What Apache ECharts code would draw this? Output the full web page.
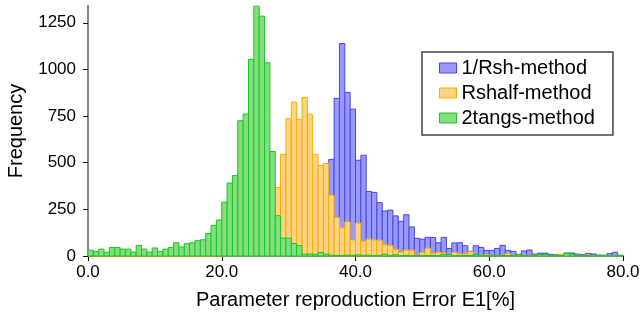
<!DOCTYPE html>
<html>
<head>
<meta charset="utf-8">
<script src="https://cdn.jsdelivr.net/npm/echarts@6/dist/echarts.min.js"></script>
<style>
  html, body { margin: 0; padding: 0; background: #fff; }
  #histEcharts { width: 643px; height: 320px; }
</style>
</head>
<body>
<div id="histEcharts"></div>
<script>
// 直方图: 三种方法的参数重现误差
var binWidth = 0.8; // 每个 bin 宽 0.8 (%), 共 100 个
var seriesNames = ["1/Rsh-method", "Rshalf-method", "2tangs-method"];
var xTicks = [0, 20, 40, 60, 80];
var yTicks = [0, 250, 500, 750, 1000, 1250];

var rshCounts = [
  0, 0, 0, 0, 0, 0, 0, 0, 0, 0,
  0, 0, 0, 0, 0, 0, 0, 0, 0, 0,
  0, 0, 0, 0, 0, 0, 0, 0, 0, 0,
  0, 0, 0, 0, 0, 0, 0, 0, 5, 10,
  20, 40, 80, 150, 280, 518, 845, 1139, 877, 787,
  513, 540, 346, 341, 286, 241, 246, 215, 186, 221,
  156, 95, 90, 100, 99, 71, 100, 40, 70, 71,
  55, 25, 55, 46, 30, 30, 41, 57, 30, 25,
  9, 27, 32, 10, 15, 15, 9, 7, 5, 16,
  16, 10, 7, 14, 11, 5, 4, 13, 20, 4
];
var rshalfCounts = [
  0, 0, 0, 0, 0, 0, 0, 0, 0, 0,
  0, 0, 0, 0, 0, 0, 0, 0, 0, 0,
  0, 0, 0, 0, 0, 2, 3, 5, 8, 15,
  25, 45, 80, 140, 250, 367, 545, 736, 825, 733,
  850, 760, 545, 486, 496, 326, 206, 151, 183, 86,
  176, 80, 90, 86, 85, 60, 56, 36, 21, 32,
  31, 5, 20, 42, 14, 20, 16, 6, 20, 11,
  11, 23, 5, 4, 6, 5, 3, 4, 14, 3,
  5, 4, 5, 4, 3, 5, 3, 4, 9, 3,
  2, 4, 2, 6, 2, 3, 2, 2, 3, 2
];
var tangsCounts = [
  31, 24, 37, 20, 46, 46, 37, 37, 21, 57,
  37, 21, 43, 25, 37, 46, 71, 48, 66, 71,
  82, 87, 121, 164, 193, 288, 391, 432, 725, 761,
  1054, 1339, 1286, 1036, 560, 216, 96, 96, 67, 56,
  10, 11, 9, 19, 10, 4, 3, 3, 5, 3,
  6, 3, 4, 2, 3, 10, 3, 7, 2, 3,
  2, 3, 2, 2, 3, 2, 9, 8, 2, 3,
  2, 2, 8, 2, 1, 2, 2, 2, 1, 2,
  5, 2, 1, 2, 8, 7, 1, 2, 2, 15,
  10, 3, 1, 2, 1, 1, 2, 1, 1, 2
];

var fillColors = ["#9999fb", "#ffd37f", "#80e080"];
var edgeColors = ["#4646ee", "#ffaa00", "#1fc41f"];

function toBins(counts) {
  return counts.map(function (c, i) {
    return [i * binWidth, (i + 1) * binWidth, c];
  });
}

function renderBin(params, api) {
  var topLeft = api.coord([api.value(0), api.value(2)]);
  var bottomRight = api.coord([api.value(1), 0]);
  return {
    type: "rect",
    shape: {
      x: topLeft[0],
      y: topLeft[1],
      width: bottomRight[0] - topLeft[0],
      height: bottomRight[1] - topLeft[1],
    },
    style: {
      fill: fillColors[params.seriesIndex],
      stroke: edgeColors[params.seriesIndex],
      lineWidth: 1,
    },
  };
}

var histChart = echarts.init(document.getElementById("histEcharts"));

var allCounts = [rshCounts, rshalfCounts, tangsCounts];
var fontFam = "'Liberation Sans', Arial, sans-serif";

var histOption = {
  animation: false,
  textStyle: { fontFamily: fontFam },
  grid: { left: 88, right: 20, top: 6, bottom: 64, outerBoundsMode: "none", containLabel: false },
  legend: {
    orient: "vertical",
    left: 422,
    top: 52,
    padding: [6, 18, 7, 17],
    itemWidth: 17,
    itemHeight: 10,
    itemGap: 5,
    borderColor: "#444",
    borderWidth: 1.5,
    icon: "rect",
    textStyle: { fontSize: 20, color: "#000", lineHeight: 20, fontFamily: fontFam },
    data: seriesNames.map(function (n, i) {
      return {
        name: n,
        itemStyle: { color: fillColors[i], borderColor: edgeColors[i], borderWidth: 1 },
      };
    }),
  },
  xAxis: {
    type: "value",
    min: 0,
    max: 80,
    interval: 20,
    name: "Parameter reproduction Error E1[%]",
    nameLocation: "middle",
    nameGap: 34,
    nameTextStyle: { fontSize: 20, color: "#000", fontFamily: fontFam },
    axisLine: { show: true, lineStyle: { color: "#888", width: 2 } },
    axisTick: { show: true, length: 5, lineStyle: { color: "#000", width: 1 }, customValues: xTicks },
    axisLabel: {
      fontSize: 17,
      color: "#000",
      margin: 8,
      customValues: xTicks,
      formatter: function (v) { return v.toFixed(1); },
    },
    splitLine: { show: false },
  },
  yAxis: {
    type: "value",
    min: 0,
    max: 1340,
    name: "Frequency",
    nameLocation: "middle",
    nameGap: 62,
    nameTextStyle: { fontSize: 20, color: "#000", fontFamily: fontFam },
    axisLine: { show: true, lineStyle: { color: "#888", width: 2 } },
    axisTick: { show: true, length: 5, lineStyle: { color: "#000", width: 1 }, customValues: yTicks },
    axisLabel: {
      fontSize: 17,
      color: "#000",
      margin: 12,
      customValues: yTicks,
      formatter: function (v) { return String(v); },
    },
    splitLine: { show: false },
  },
  series: allCounts.map(function (counts, i) {
    return {
      name: seriesNames[i],
      type: "custom",
      renderItem: renderBin,
      itemStyle: { color: fillColors[i], borderColor: edgeColors[i], borderWidth: 1 },
      encode: { x: [0, 1], y: 2 },
      data: toBins(counts),
    };
  }),
};

histChart.setOption(histOption);

window.addEventListener("resize", function () {
  histChart.resize();
});
</script>
</body>
</html>
